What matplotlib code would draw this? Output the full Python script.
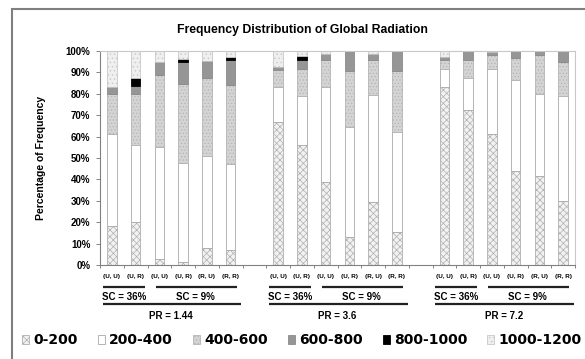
import matplotlib
matplotlib.use("Agg")
import matplotlib.pyplot as plt
import numpy as np
from matplotlib.patches import Rectangle

plt.rcParams['font.family'] = ['Liberation Sans', 'DejaVu Sans']
plt.rcParams['hatch.linewidth'] = 0.5

# ---- data ----
pair_labels = ["(U, U)", "(U, R)", "(U, U)", "(U, R)", "(R, U)", "(R, R)"]
pr_labels = ["PR = 1.44", "PR = 3.6", "PR = 7.2"]
sc_labels = ["SC = 36%", "SC = 9%"]
series_names = ["0-200", "200-400", "400-600", "600-800", "800-1000", "1000-1200"]

s0_200 = [18, 20, 3, 1.5, 8, 7,
          67, 56, 39, 13, 29.5, 15.5,
          83, 72.5, 61, 44, 41.5, 30]
s200_400 = [43, 36, 52, 46, 43, 40,
            16, 23, 44, 51.5, 50, 46.5,
            8.5, 15, 30.5, 42.5, 38.5, 49]
s400_600 = [19, 24, 34, 37, 36.5, 37,
            8, 12.5, 13, 26, 16.5, 28.5,
            4.5, 8.5, 6.5, 10, 18, 16]
s600_800 = [3, 3.5, 6, 10.5, 8, 12,
            1.5, 4.5, 2.5, 9.5, 2.5, 9.5,
            1, 4, 1.5, 3.5, 2, 5]
s800_1000 = [0, 4, 0, 1.2, 0, 1,
             0, 1.5, 0, 0, 0, 0,
             0, 0, 0, 0, 0, 0]
s1000_1200 = [17, 12.5, 5, 3.8, 4.5, 3,
              7.5, 2.5, 1.5, 0, 1.5, 0,
              3, 0, 0.5, 0, 0, 0]

series = [s0_200, s200_400, s400_600, s600_800, s800_1000, s1000_1200]
styles = [
    dict(facecolor="#f2f2f2", edgecolor="#b0b0b0", hatch="xxxxx"),
    dict(facecolor="#ffffff", edgecolor="#a8a8a8", hatch=None),
    dict(facecolor="#d4d4d4", edgecolor="#b4b4b4", hatch="....."),
    dict(facecolor="#969696", edgecolor="#8a8a8a", hatch=None),
    dict(facecolor="#000000", edgecolor="#000000", hatch=None),
    dict(facecolor="#efefef", edgecolor="#c8c8c8", hatch="...."),
]

# slot positions: 3 groups of 6 with one empty slot between groups
positions = []
for g in range(3):
    positions += [g * 7 + i for i in range(6)]
positions = np.array(positions)

fig = plt.figure(figsize=(5.85, 3.59), dpi=100)
ax = fig.add_axes([100 / 585, 1 - 265 / 359, 475 / 585, 214 / 359])

bottom = np.zeros(len(positions))
handles = []
for vals, st, name in zip(series, styles, series_names):
    vals = np.array(vals, dtype=float)
    b = ax.bar(positions, vals, width=0.4, bottom=bottom, linewidth=0.6,
               label=name, **st)
    handles.append(b)
    bottom += vals

ax.set_xlim(-0.5, 19.5)
ax.set_ylim(0, 100)
ax.set_yticks(np.arange(0, 101, 10))
ax.set_yticklabels([f"{v}%" for v in range(0, 101, 10)], fontsize=7, fontweight="bold")
ax.set_xticks(positions)
ax.set_xticklabels(pair_labels * 3, fontsize=4.6, fontweight="bold")
ax.tick_params(axis="x", length=0, pad=6.5)
ax.set_xticks(np.arange(-0.5, 20, 1), minor=True)
ax.tick_params(axis="x", which="minor", length=2.5, color="#707070", width=0.6)
ax.tick_params(axis="y", length=3, color="#707070", width=0.6, pad=4)
for s in ["top", "right"]:
    ax.spines[s].set_color("#c8c8c8")
    ax.spines[s].set_linewidth(0.8)
for s in ["left", "bottom"]:
    ax.spines[s].set_color("#808080")
    ax.spines[s].set_linewidth(0.8)

ax.set_ylabel("Percentage of Frequency", fontsize=7.5, fontweight="bold", labelpad=14)

# group annotations
tr = ax.get_xaxis_transform()
for g in range(3):
    base = g * 7
    ax.plot([base - 0.38, base + 1.38], [-0.103, -0.103], transform=tr,
            color="#222222", lw=1.6, clip_on=False, solid_capstyle="butt")
    ax.text(base + 0.5, -0.15, sc_labels[0], transform=tr, ha="center", va="center",
            fontsize=7, fontweight="bold")
    ax.plot([base + 1.85, base + 5.25], [-0.103, -0.103], transform=tr,
            color="#222222", lw=1.6, clip_on=False, solid_capstyle="butt")
    ax.text(base + 3.5, -0.15, sc_labels[1], transform=tr, ha="center", va="center",
            fontsize=7, fontweight="bold")
    ax.plot([base - 0.38, base + 5.45], [-0.182, -0.182], transform=tr,
            color="#222222", lw=1.6, clip_on=False, solid_capstyle="butt")
    ax.text(base + 2.5, -0.238, pr_labels[g], transform=tr, ha="center", va="center",
            fontsize=7, fontweight="bold")

fig.text(302 / 585, 1 - 30 / 359, "Frequency Distribution of Global Radiation",
         ha="center", va="center", fontsize=8.8, fontweight="bold")

fig.legend(handles=handles, labels=series_names, loc="center", ncol=6,
           bbox_to_anchor=(302 / 585, 1 - 340 / 359), frameon=False,
           prop=dict(family="DejaVu Sans", size=10, weight="bold"),
           handlelength=0.5, handleheight=0.6,
           handletextpad=0.3, columnspacing=1.45, borderaxespad=0)

# outer frame
fig.patches.append(Rectangle((12 / 585, -0.1), 1.2, 1.1 - 9 / 359,
                             transform=fig.transFigure, fill=False,
                             edgecolor="#7f7f7f", linewidth=1.5))

fig.savefig("out.png", dpi=100)
